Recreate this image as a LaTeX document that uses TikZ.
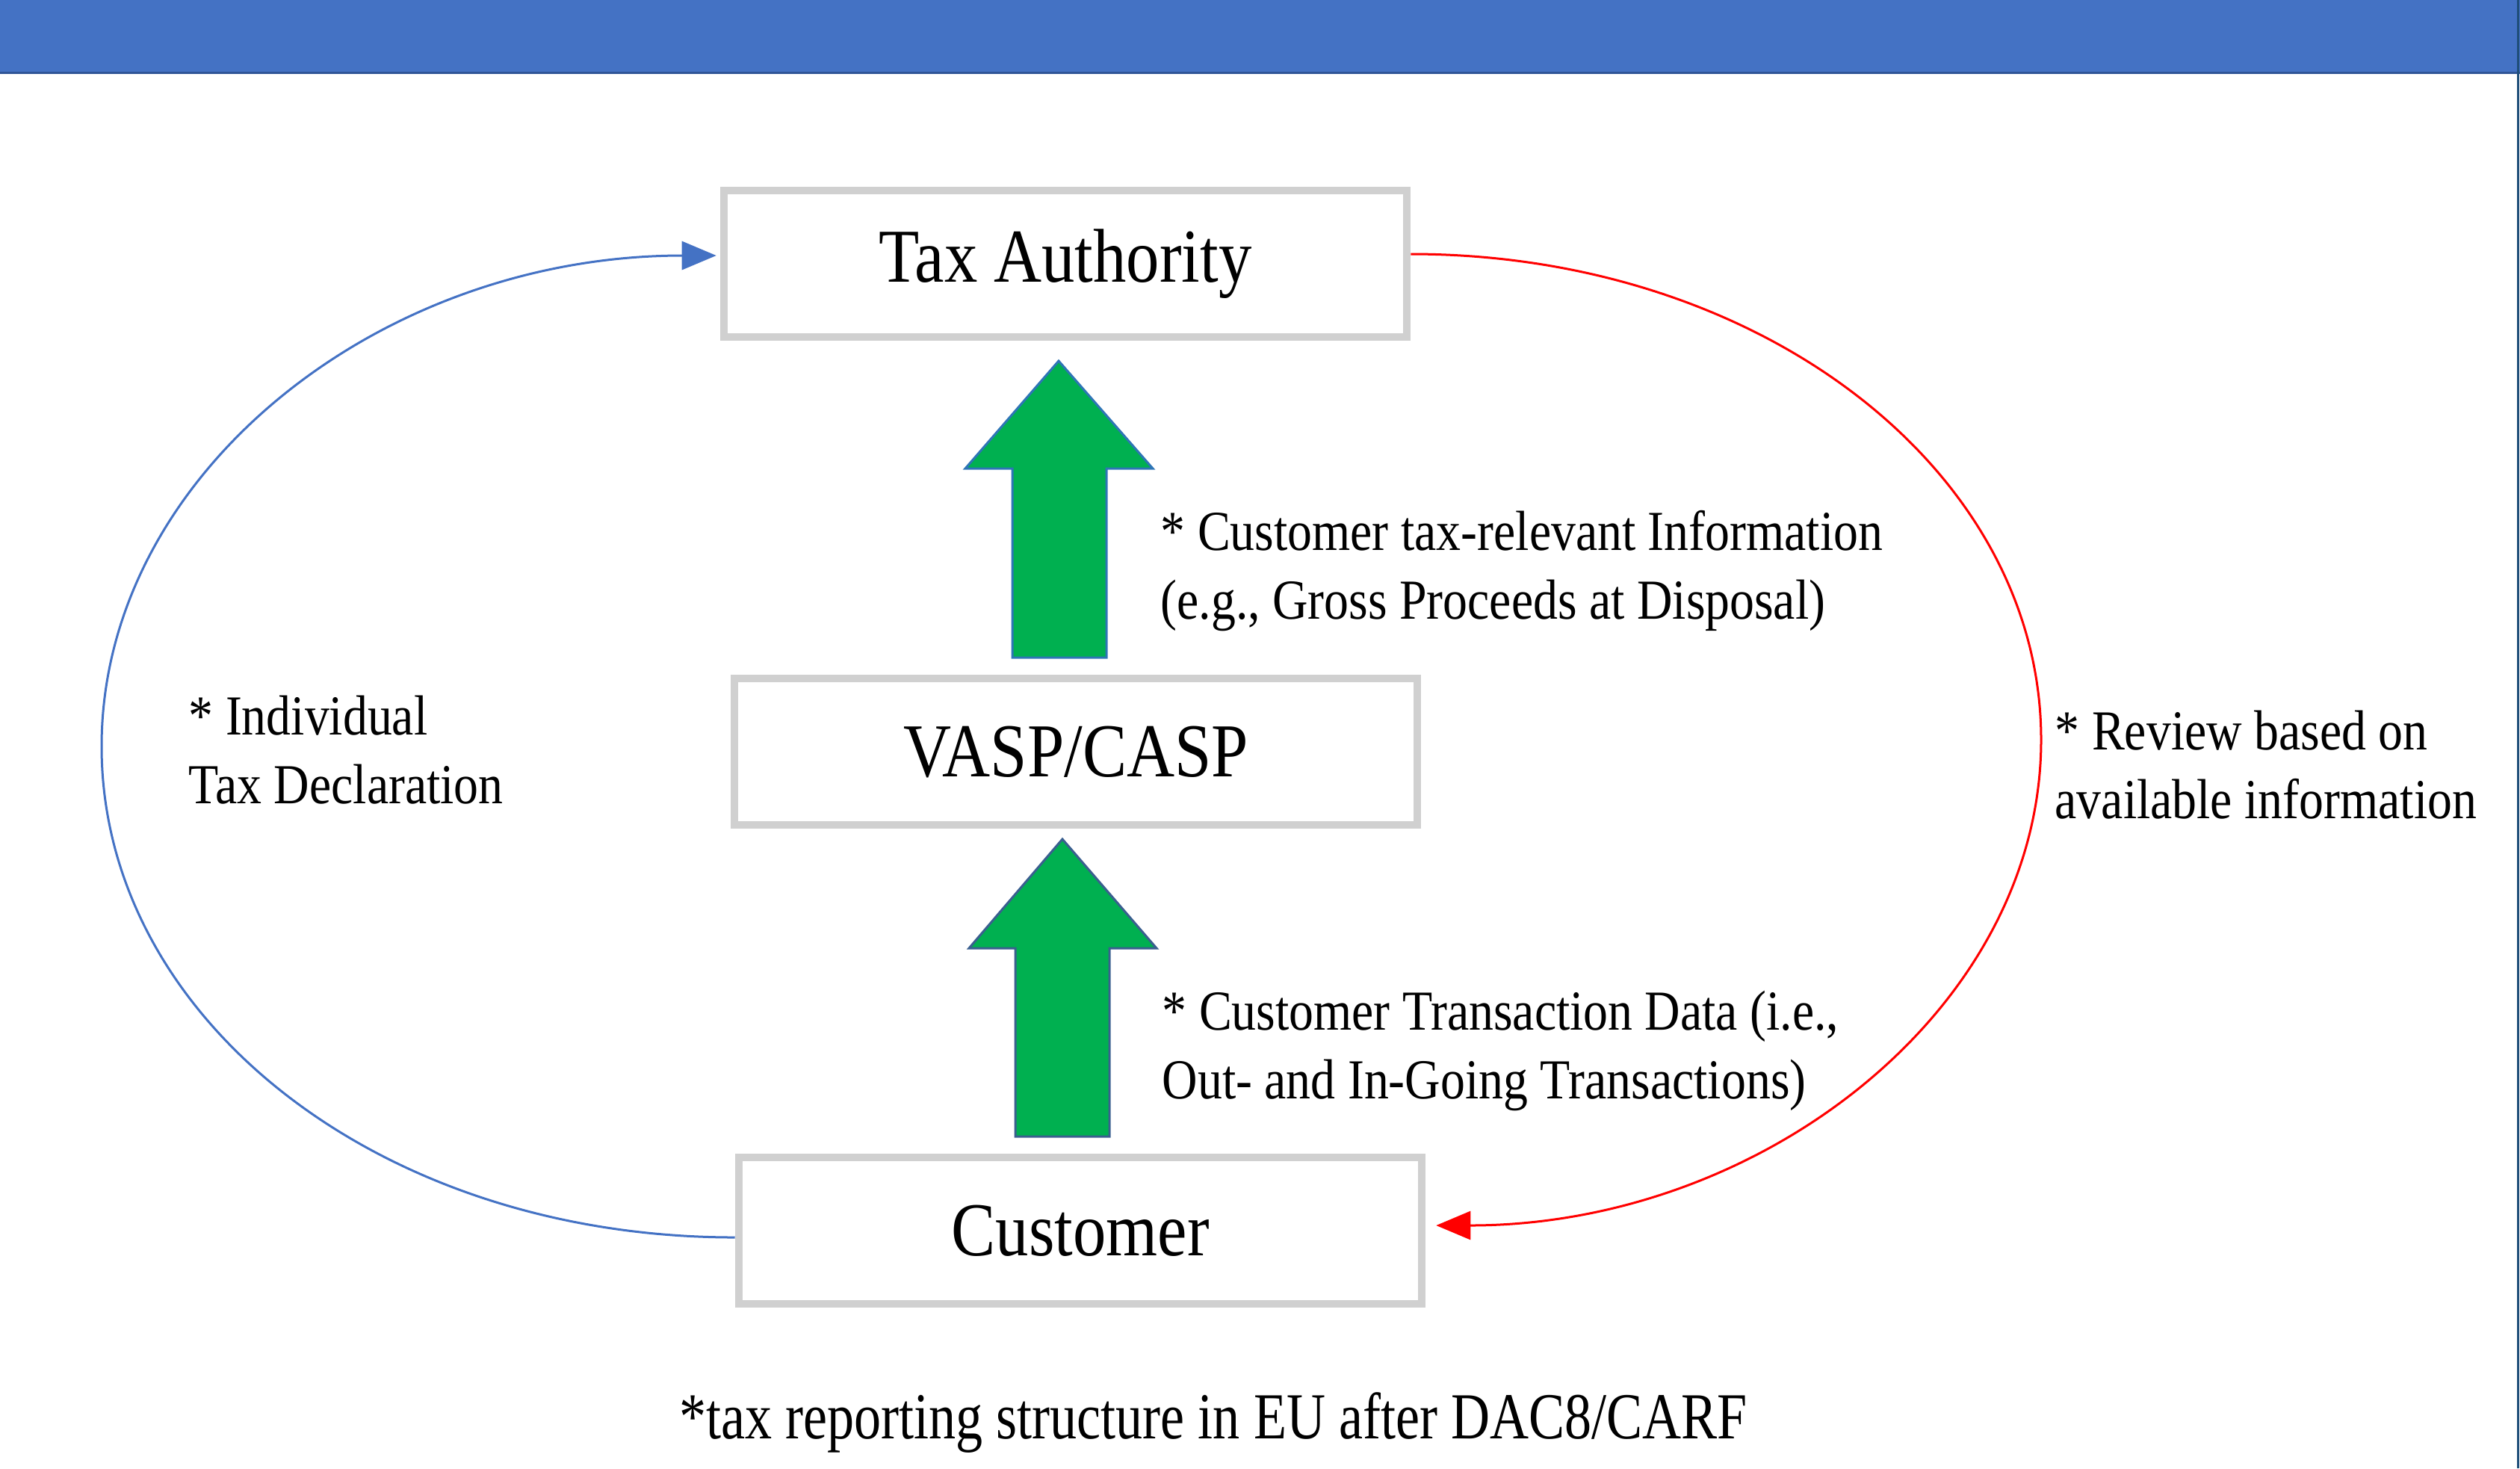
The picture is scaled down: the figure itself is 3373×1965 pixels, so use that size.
\documentclass[tikz,border=0pt]{standalone}
\usepackage{fontspec}
\setmainfont{Liberation Serif}[FakeStretch=0.87]
\newfontfamily\capfont{Liberation Serif}[FakeStretch=0.82]
\usetikzlibrary{arrows.meta}

\definecolor{bandblue}{HTML}{4472C4}
\definecolor{banddark}{HTML}{2F5597}
\definecolor{frameline}{HTML}{1F4E79}
\definecolor{boxgray}{HTML}{D0D0D0}
\definecolor{flowgreen}{HTML}{00B050}
\definecolor{upperrim}{HTML}{2E75B6}
\definecolor{lowerrim}{HTML}{3A5F8F}
\definecolor{declblue}{HTML}{4472C4}
\definecolor{reviewred}{HTML}{FF0000}

\tikzset{
  entity/.style={draw=boxgray, line width=0.1cm, fill=white,
    minimum width=9.14cm, minimum height=1.96cm, inner sep=0pt,
    font=\fontsize{29pt}{34pt}\selectfont},
  note/.style={anchor=west, align=left, inner sep=0pt,
    font=\fontsize{21.5pt}{26.2pt}\selectfont},
  bigarrow/.style={fill=flowgreen, line width=0.03cm, line join=miter},
  loop/.style={line width=0.03cm,
    -{Triangle[length=0.46cm, width=0.38cm]}}
}

\begin{document}
\begin{tikzpicture}[x=0.01cm, y=-0.01cm]
\useasboundingbox (0,0) rectangle (3373,1965);

% header band and right frame line
\fill[bandblue] (0,0) rectangle (3373,97);
\draw[banddark, line width=0.03cm] (0,97.5) -- (3373,97.5);
\draw[frameline, line width=0.03cm] (3370.5,0) -- (3370.5,1965);

% the three parties
\node[entity] (tax)  at (1426,353)  {Tax Authority};
\node[entity] (vasp) at (1440,1006) {VASP/CASP};
\node[entity] (cust) at (1446,1647) {Customer};

% block arrows: reporting flow upwards
\draw[bigarrow, draw=upperrim]
  (1355,880) -- (1355,627) -- (1292,627) -- (1417,483) -- (1543,627)
  -- (1481,627) -- (1481,880) -- cycle;
\draw[bigarrow, draw=lowerrim]
  (1359,1521) -- (1359,1269) -- (1297,1269) -- (1422,1123) -- (1548,1269)
  -- (1485,1269) -- (1485,1521) -- cycle;

% customer declares to the authority
\draw[loop, declblue]
  ([yshift=-0.09cm]cust.west) .. controls (505,1656) and (136,1361) .. (136,999)
  .. controls (136,637) and (505,342) .. ([xshift=-0.05cm, yshift=0.11cm]tax.west);

% authority reviews the customer
\draw[loop, reviewred]
  ([yshift=0.13cm]tax.east) .. controls (2359,340) and (2732,631) .. (2732,990)
  .. controls (2732,1349) and (2359,1640) .. ([xshift=0.14cm, yshift=0.07cm]cust.east);

% annotations
\node[note] (info) at (1553,764)
  {* Customer tax-relevant Information\\(e.g., Gross Proceeds at Disposal)};
\node[note] (trans) at (1555,1406)
  {* Customer Transaction Data (i.e.,\\Out- and In-Going Transactions)};
\node[note] (review) at (2750,1024)
  {* Review based on\\available information};
\node[note] (decl) at (252,1004)
  {* Individual\\Tax Declaration};

\node[inner sep=0pt, font=\capfont\fontsize{25pt}{30pt}\selectfont] (caption) at (1624,1904)
  {*tax reporting structure in EU after DAC8/CARF};
\end{tikzpicture}
\end{document}
